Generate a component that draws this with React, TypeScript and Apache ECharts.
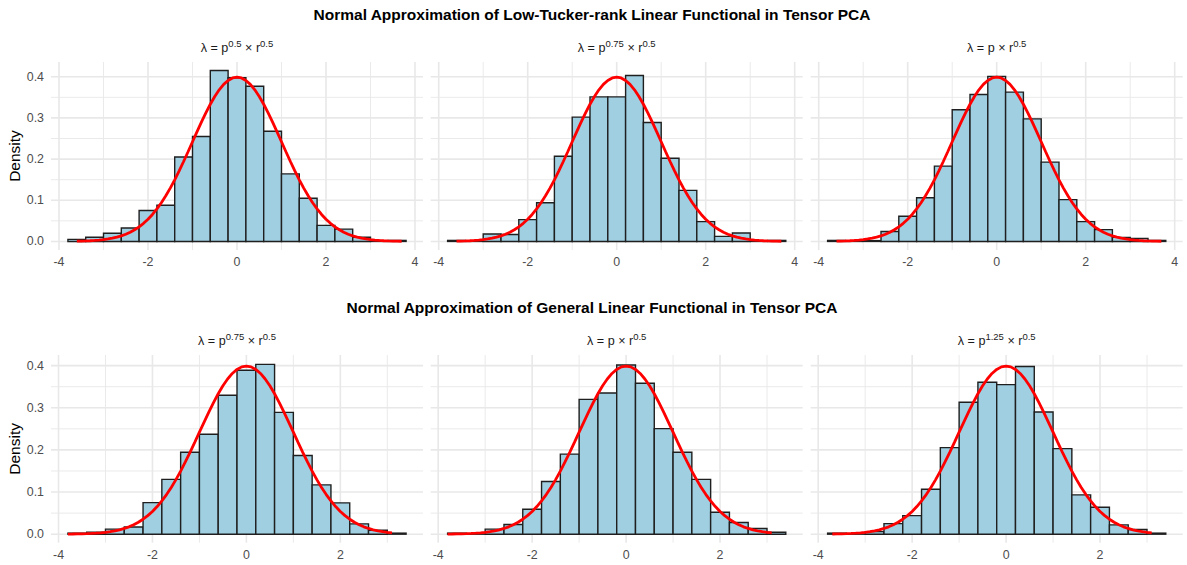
import React, { useEffect, useRef } from "react";
import * as echarts from "echarts";

// ---------- data ----------
const mainTitles = [
  "Normal Approximation of Low-Tucker-rank Linear Functional in Tensor PCA",
  "Normal Approximation of General Linear Functional in Tensor PCA",
];

// strip labels: [exponent of p ("" = none), exponent of r]
const topStripExp = [["0.5", "0.5"], ["0.75", "0.5"], ["", "0.5"]];
const bottomStripExp = [["0.75", "0.5"], ["", "0.5"], ["1.25", "0.5"]];

const binWidth = 0.4;
const binStartsTop = [-3.8, -3.4, -3.0, -2.6, -2.2, -1.8, -1.4, -1.0, -0.6, -0.2, 0.2, 0.6, 1.0, 1.4, 1.8, 2.2, 2.6, 3.0, 3.4];
const binStartsBottom = [-3.8, -3.4, -3.0, -2.6, -2.2, -1.8, -1.4, -1.0, -0.6, -0.2, 0.2, 0.6, 1.0, 1.4, 1.8, 2.2, 2.6, 3.0];

const densityTop1 = [0.005, 0.01, 0.02, 0.0325, 0.075, 0.088, 0.205, 0.255, 0.415, 0.3975, 0.377, 0.2675, 0.164, 0.105, 0.039, 0.03, 0.01, 0, 0.0025];
const densityTop2 = [0.0025, 0, 0.018, 0.017, 0.053, 0.094, 0.207, 0.302, 0.351, 0.351, 0.403, 0.289, 0.202, 0.124, 0.048, 0.0123, 0.0205, 0, 0.0025];
const densityTop3 = [0.0025, 0, 0.002, 0.024, 0.061, 0.106, 0.183, 0.32, 0.357, 0.401, 0.3626, 0.2976, 0.1927, 0.1016, 0.048, 0.0287, 0.0098, 0.0074, 0.0025];
const densityBottom1 = [0.0025, 0.005, 0.012, 0.017, 0.075, 0.13, 0.1945, 0.237, 0.3296, 0.389, 0.403, 0.289, 0.1866, 0.117, 0.0743, 0.0245, 0.0095, 0.0025];
const densityBottom2 = [0.0025, 0, 0.012, 0.023, 0.059, 0.125, 0.19, 0.32, 0.335, 0.4016, 0.358, 0.2506, 0.1945, 0.13, 0.052, 0.0277, 0.0134, 0.0047];
const densityBottom3 = [0.0025, 0, 0.006, 0.025, 0.044, 0.1067, 0.2055, 0.313, 0.3605, 0.355, 0.398, 0.29, 0.203, 0.0933, 0.064, 0.022, 0.011, 0.0025];

// red reference curve (standard normal density), read at 0.1 steps
const curveX = [
  -3.8, -3.7, -3.6, -3.5, -3.4, -3.3, -3.2, -3.1, -3.0, -2.9, -2.8, -2.7, -2.6, -2.5, -2.4, -2.3, -2.2, -2.1, -2.0,
  -1.9, -1.8, -1.7, -1.6, -1.5, -1.4, -1.3, -1.2, -1.1, -1.0, -0.9, -0.8, -0.7, -0.6, -0.5, -0.4, -0.3, -0.2, -0.1,
  0.0, 0.1, 0.2, 0.3, 0.4, 0.5, 0.6, 0.7, 0.8, 0.9, 1.0, 1.1, 1.2, 1.3, 1.4, 1.5, 1.6, 1.7, 1.8, 1.9, 2.0,
  2.1, 2.2, 2.3, 2.4, 2.5, 2.6, 2.7, 2.8, 2.9, 3.0, 3.1, 3.2, 3.3, 3.4, 3.5, 3.6, 3.7, 3.8,
];
const curveY = [
  0.0003, 0.0004, 0.0006, 0.0009, 0.0012, 0.0017, 0.0024, 0.0033, 0.0044, 0.006, 0.0079, 0.0104, 0.0136, 0.0175, 0.0224, 0.0283, 0.0355, 0.044, 0.054,
  0.0656, 0.079, 0.094, 0.1109, 0.1295, 0.1497, 0.1714, 0.1942, 0.2179, 0.242, 0.2661, 0.2897, 0.3123, 0.3332, 0.3521, 0.3683, 0.3814, 0.391, 0.397,
  0.3989, 0.397, 0.391, 0.3814, 0.3683, 0.3521, 0.3332, 0.3123, 0.2897, 0.2661, 0.242, 0.2179, 0.1942, 0.1714, 0.1497, 0.1295, 0.1109, 0.094, 0.079, 0.0656, 0.054,
  0.044, 0.0355, 0.0283, 0.0224, 0.0175, 0.0136, 0.0104, 0.0079, 0.006, 0.0044, 0.0033, 0.0024, 0.0017, 0.0012, 0.0009, 0.0006, 0.0004, 0.0003,
];
const curveRangeTop = [[-3.6, 3.7], [-3.6, 3.7], [-3.6, 3.7]];
const curveRangeBottom = [[-3.8, 3.1], [-3.8, 3.1], [-3.7, 3.1]];

// axes
const xLimitsTop = [-4.18, 4.18];
const xLimitsBottom = [-4.16, 3.76];
const yLimitsTop = [-0.0208, 0.4358];
const yLimitsBottom = [-0.0202, 0.4252];
const xTicksTop = [-4, -2, 0, 2, 4];
const xTicksBottom = [-4, -2, 0, 2];
const xMinorTop = [-3, -1, 1, 3];
const xMinorBottom = [-3, -1, 1, 3];
const yTicks = [0, 0.1, 0.2, 0.3, 0.4];
const yMinor = [0.05, 0.15, 0.25, 0.35];

// ---------- layout / style ----------
const FONT = '"Liberation Sans", Arial, Helvetica, sans-serif';
const W = 1187;
const H = 565;
const panelLefts = [51, 430.7, 810.7];
const panelWidth = 372;
const rowTops = [62, 355];
const rowHeights = [188, 187.7];
const stripY = [46, 339];
const titleY = [14, 307];
const BAR_FILL = "#9fcfe0";
const BAR_STROKE = "#1f1f1f";
const GRID_COLOR = "#e8e8e8";
const AXIS_TEXT = "#4d4d4d";

function stripRich(pExp: string, rExp: string) {
  const p = pExp ? `{b|p}{s|${pExp}}` : "{b|p}";
  return `{b|λ = }${p}{b| × r}{s|${rExp}}`;
}

export default function App() {
  const ref = useRef<HTMLDivElement>(null);

  useEffect(() => {
    if (!ref.current) return;
    const chart = echarts.init(ref.current, null, { renderer: "svg", width: W, height: H });

    const rows = [
      {
        starts: binStartsTop,
        dens: [densityTop1, densityTop2, densityTop3],
        xLim: xLimitsTop,
        yLim: yLimitsTop,
        xTicks: xTicksTop,
        xMinor: xMinorTop,
        curveRange: curveRangeTop,
        strips: topStripExp,
      },
      {
        starts: binStartsBottom,
        dens: [densityBottom1, densityBottom2, densityBottom3],
        xLim: xLimitsBottom,
        yLim: yLimitsBottom,
        xTicks: xTicksBottom,
        xMinor: xMinorBottom,
        curveRange: curveRangeBottom,
        strips: bottomStripExp,
      },
    ];

    const grid: any[] = [];
    const xAxis: any[] = [];
    const yAxis: any[] = [];
    const series: any[] = [];
    const graphic: any[] = [];

    rows.forEach((row, r) => {
      graphic.push({
        type: "text",
        x: 592,
        y: titleY[r],
        silent: true,
        style: {
          text: mainTitles[r],
          fontFamily: FONT,
          fontSize: 15.5,
          fontWeight: "bold",
          fill: "#000",
          align: "center",
          verticalAlign: "middle",
          textAlign: "center",
          textVerticalAlign: "middle",
        },
      });
      for (let c = 0; c < 3; c++) {
        const gi = r * 3 + c;
        grid.push({
          left: panelLefts[c],
          top: rowTops[r],
          width: panelWidth,
          height: rowHeights[r],
          containLabel: false,
        });
        xAxis.push({
          gridIndex: gi,
          type: "value",
          min: row.xLim[0],
          max: row.xLim[1],
          axisLine: { show: false },
          axisTick: { show: false },
          splitLine: { show: false },
          axisLabel: {
            customValues: row.xTicks,
            formatter: (v: number) => String(Math.round(v)),
            color: AXIS_TEXT,
            fontSize: 12.4,
            fontFamily: FONT,
            margin: 6,
          },
        });
        yAxis.push({
          gridIndex: gi,
          type: "value",
          min: row.yLim[0],
          max: row.yLim[1],
          axisLine: { show: false },
          axisTick: { show: false },
          splitLine: { show: false },
          name: c === 0 ? "Density" : "",
          nameLocation: "middle",
          nameGap: 27,
          nameTextStyle: { color: "#000", fontSize: 15.5, fontFamily: FONT },
          axisLabel: {
            show: c === 0,
            customValues: yTicks,
            formatter: (v: number) => v.toFixed(1),
            color: AXIS_TEXT,
            fontSize: 12.4,
            fontFamily: FONT,
            margin: 7,
          },
        });

        // grid lines
        const gridData: number[][] = [];
        row.xTicks.forEach((v) => gridData.push([0, v, 1]));
        row.xMinor.forEach((v) => gridData.push([0, v, 0]));
        yTicks.forEach((v) => gridData.push([1, v, 1]));
        yMinor.forEach((v) => gridData.push([1, v, 0]));
        const xMin = row.xLim[0];
        const yMin = row.yLim[0];
        series.push({
          type: "custom",
          xAxisIndex: gi,
          yAxisIndex: gi,
          silent: true,
          z: 1,
          data: gridData,
          renderItem: (params: any, api: any) => {
            const cs = params.coordSys;
            const orient = api.value(0);
            const v = api.value(1);
            const major = api.value(2);
            const lw = major ? 1.6 : 0.9;
            if (orient === 0) {
              const px = api.coord([v, yMin])[0];
              return {
                type: "line",
                shape: { x1: px, y1: cs.y, x2: px, y2: cs.y + cs.height },
                style: { stroke: GRID_COLOR, lineWidth: lw },
              };
            }
            const py = api.coord([xMin, v])[1];
            return {
              type: "line",
              shape: { x1: cs.x, y1: py, x2: cs.x + cs.width, y2: py },
              style: { stroke: GRID_COLOR, lineWidth: lw },
            };
          },
        });

        // histogram bars
        const barData = row.starts.map((s, i) => [s, s + binWidth, row.dens[c][i]]);
        series.push({
          type: "custom",
          xAxisIndex: gi,
          yAxisIndex: gi,
          silent: true,
          z: 2,
          encode: { x: [0, 1], y: 2 },
          data: barData,
          renderItem: (params: any, api: any) => {
            const x0 = api.value(0);
            const x1 = api.value(1);
            const h = api.value(2);
            const b = api.coord([x0, 0]);
            const t = api.coord([x1, h]);
            if (h <= 0) {
              return {
                type: "line",
                shape: { x1: b[0], y1: b[1], x2: t[0], y2: b[1] },
                style: { stroke: BAR_STROKE, lineWidth: 1.4 },
              };
            }
            return {
              type: "rect",
              shape: { x: b[0], y: t[1], width: t[0] - b[0], height: b[1] - t[1] },
              style: { fill: BAR_FILL, stroke: BAR_STROKE, lineWidth: 1.4 },
            };
          },
        });

        // normal curve
        const [lo, hi] = row.curveRange[c];
        const curveData = curveX
          .map((x, i) => [x, curveY[i]])
          .filter((p) => p[0] >= lo - 1e-9 && p[0] <= hi + 1e-9);
        series.push({
          type: "line",
          xAxisIndex: gi,
          yAxisIndex: gi,
          silent: true,
          z: 3,
          data: curveData,
          showSymbol: false,
          symbol: "none",
          smooth: false,
          lineStyle: { color: "#ff0000", width: 2.8 },
        });

        // strip label
        const [pe, re] = row.strips[c];
        graphic.push({
          type: "text",
          x: panelLefts[c] + panelWidth / 2,
          y: stripY[r],
          silent: true,
          style: {
            text: stripRich(pe, re),
            fontFamily: FONT,
            fill: "#1a1a1a",
            align: "center",
            verticalAlign: "middle",
            textAlign: "center",
            textVerticalAlign: "middle",
            rich: {
              b: { fontSize: 12.6, fontFamily: FONT, fill: "#1a1a1a", lineHeight: 16, verticalAlign: "bottom" },
              s: { fontSize: 9.5, fontFamily: FONT, fill: "#1a1a1a", lineHeight: 8, verticalAlign: "top" },
            },
          },
        });
      }
    });

    chart.setOption({
      animation: false,
      backgroundColor: "#ffffff",
      grid,
      xAxis,
      yAxis,
      series,
      graphic,
    });

    return () => {
      chart.dispose();
    };
  }, []);

  return (
    <div
      ref={ref}
      style={{ position: "fixed", left: 0, top: 0, width: W, height: H, background: "#fff" }}
    />
  );
}
